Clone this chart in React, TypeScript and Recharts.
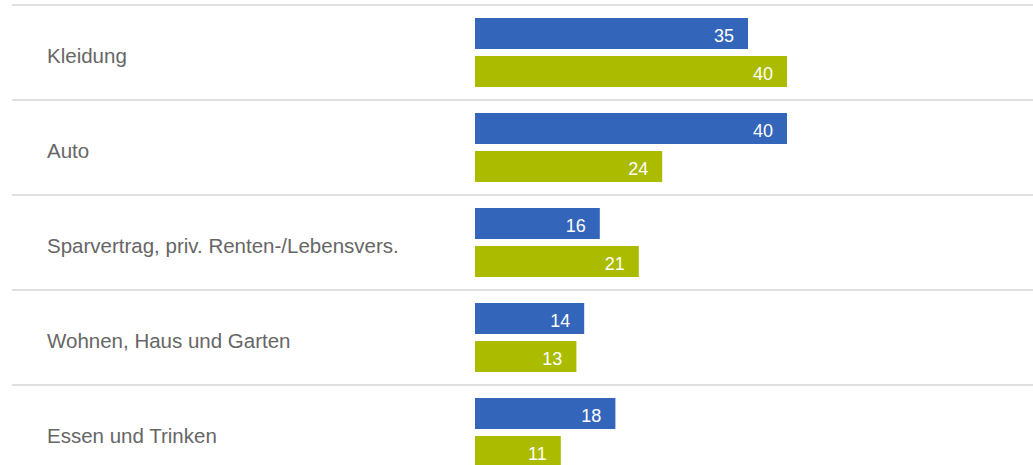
import { Bar, BarChart, LabelList, XAxis, YAxis } from "recharts";

const categories = [
    "Kleidung",
    "Auto",
    "Sparvertrag, priv. Renten-/Lebensvers.",
    "Wohnen, Haus und Garten",
    "Essen und Trinken",
];
const seriesA = [35, 40, 16, 14, 18];
const seriesB = [40, 24, 21, 13, 11];

const WIDTH = 1033;
const HEIGHT = 490;
const MARGIN = { top: 5, right: 246, bottom: 10, left: 0 };
const ROW = (HEIGHT - MARGIN.top - MARGIN.bottom) / categories.length;
const FONT = "Liberation Sans, Arial, sans-serif";

const data = categories.map((name, i) => ({ name, a: seriesA[i], b: seriesB[i] }));

function CategoryTick({ y, payload }: { y?: number; payload?: { value: string } }) {
    const cy = y ?? 0;
    return (
        <g>
            <line x1={12} x2={WIDTH} y1={cy - ROW / 2} y2={cy - ROW / 2} stroke="#e0e0e0" strokeWidth={2} />
            <text x={47} y={cy} dy="0.5em" textAnchor="start" fill="#666666" style={{ fontSize: 20.5, fontFamily: FONT }}>
                {payload?.value}
            </text>
        </g>
    );
}

function ValueLabel(props: any) {
    const { x, y, width, height, value } = props;
    return (
        <text
            x={x + width - 14}
            y={y + height / 2}
            dy="0.47em"
            textAnchor="end"
            fill="#ffffff"
            style={{ fontSize: 18, fontFamily: FONT }}
        >
            {value}
        </text>
    );
}

export default function App() {
    return (
        <div style={{ position: "absolute", top: 0, left: 0, width: WIDTH, height: 465, overflow: "hidden", background: "#fff" }}>
            <BarChart
                width={WIDTH}
                height={HEIGHT}
                data={data}
                layout="vertical"
                margin={MARGIN}
                barCategoryGap={13}
                barGap={7}
            >
                <XAxis type="number" domain={[0, 40]} hide />
                <YAxis
                    type="category"
                    dataKey="name"
                    width={475}
                    axisLine={false}
                    tickLine={false}
                    tick={<CategoryTick />}
                    interval={0}
                />
                <Bar dataKey="a" fill="#3366bb" isAnimationActive={false}>
                    <LabelList dataKey="a" content={<ValueLabel />} />
                </Bar>
                <Bar dataKey="b" fill="#aabb00" isAnimationActive={false}>
                    <LabelList dataKey="b" content={<ValueLabel />} />
                </Bar>
            </BarChart>
        </div>
    );
}
